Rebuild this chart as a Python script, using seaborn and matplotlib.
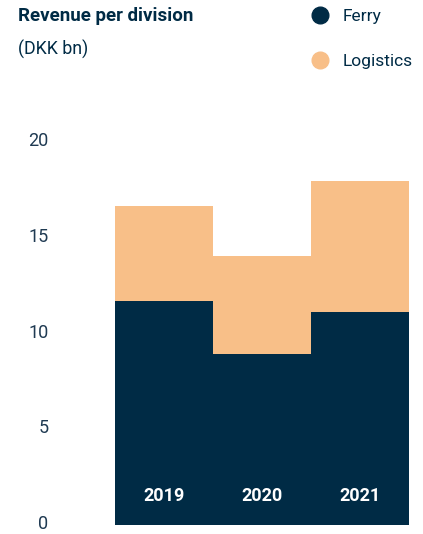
import matplotlib
matplotlib.use('Agg')
import matplotlib.pyplot as plt
import matplotlib.transforms as mtransforms
import seaborn as sns
import pandas as pd
from matplotlib.lines import Line2D

# Values (DKK bn)
years = ['2019', '2020', '2021']
ferry = [11.7, 8.95, 11.1]
logistics = [4.95, 5.1, 6.85]

navy = '#002b45'
peach = '#f8bf88'
txt = '#1f3a52'

df = pd.DataFrame({'year': years, 'Ferry': ferry, 'Logistics': logistics})
df['total'] = df['Ferry'] + df['Logistics']

sns.set_style('white')
plt.rcParams['font.family'] = ['Roboto', 'DejaVu Sans']

fig = plt.figure(figsize=(4.23, 5.34), dpi=100)
ax = fig.add_axes([0.2719, 0.0169, 0.695, 0.717])

# Stack: total (logistics colour) behind, ferry in front
sns.barplot(data=df, x='year', y='total', color=peach, width=1.0,
            saturation=1, ax=ax, linewidth=0)
sns.barplot(data=df, x='year', y='Ferry', color=navy, width=1.0,
            saturation=1, ax=ax, linewidth=0)

ax.set_ylim(0, 20)
ax.set_xlim(-0.5, 2.5)
ax.set_yticks([0, 5, 10, 15, 20])
ax.set_xticks([])
ax.set_xlabel('')
ax.set_ylabel('')
ax.tick_params(axis='y', length=0, pad=48, labelsize=13, labelcolor=txt)
sns.despine(ax=ax, left=True, bottom=True)

# nudge tick labels up a touch so the "0" isn't clipped at the bottom edge
offset = mtransforms.ScaledTranslation(0, 2 / 72, fig.dpi_scale_trans)
for lab in ax.get_yticklabels():
    lab.set_transform(lab.get_transform() + offset)

# Year labels inside the bars
for i, y in enumerate(years):
    ax.text(i, 1.5, y, ha='center', va='center', color='white',
            fontsize=13, fontweight='bold')

fig.text(0.043, 0.97, 'Revenue per division', ha='left', va='center',
         fontsize=13.5, fontweight='bold', color=navy)
fig.text(0.043, 0.908, '(DKK bn)', ha='left', va='center',
         fontsize=12.8, color=navy)

handles = [Line2D([], [], marker='o', linestyle='', markersize=12,
                  color=navy, label='Ferry'),
           Line2D([], [], marker='o', linestyle='', markersize=12,
                  color=peach, label='Logistics')]
leg = fig.legend(handles=handles, loc='upper left', bbox_to_anchor=(0.70, 1.012),
                 frameon=False, fontsize=12.5, labelspacing=1.7,
                 handletextpad=0.8, handlelength=1.0)
for t in leg.get_texts():
    t.set_color(navy)

fig.savefig('out.png', dpi=100)
